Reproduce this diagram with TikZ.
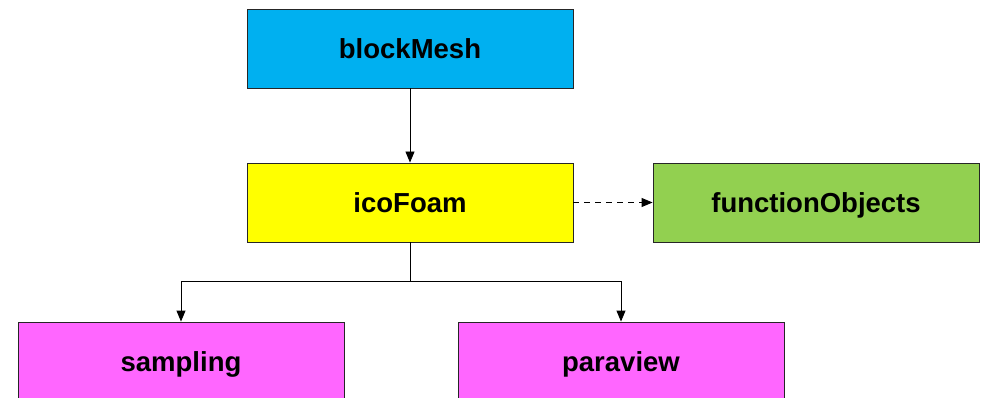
\documentclass[tikz,border=0pt]{standalone}
\usepackage{fontspec}
\setmainfont{Liberation Sans}
\usetikzlibrary{arrows.meta}
\definecolor{cbm}{HTML}{00B0F0}
\definecolor{cico}{HTML}{FFFF00}
\definecolor{cfo}{HTML}{92D050}
\definecolor{cmag}{HTML}{FF66FF}
\begin{document}
\begin{tikzpicture}[x=1pt,y=-1pt,
  box/.style={draw=black!85,line width=0.9pt,minimum width=326pt,minimum height=79pt,
    inner sep=0pt,text height=19.8pt,text depth=0pt,font=\fontsize{27.5}{33}\selectfont\bfseries},
  conn/.style={line width=0.9pt,-{Triangle[length=11pt,width=9pt]}},
  plain/.style={line width=0.9pt}]
\clip (0,0) rectangle (984,398);
\useasboundingbox (0,0) rectangle (984,398);
\fill[white] (0,0) rectangle (984,398);
\node[box,fill=cbm] (bm) at (410,48.5) {blockMesh};
\node[box,fill=cico] (ico) at (410,202.5) {icoFoam};
\node[box,fill=cfo] (fo) at (816,202.5) {functionObjects};
\node[box,fill=cmag] (samp) at (181,361.5) {sampling};
\node[box,fill=cmag] (para) at (621,361.5) {paraview};
\coordinate (j) at (410,281);
\draw[conn] (bm) -- (ico);
\draw[conn,dash pattern=on 6pt off 5pt] (ico) -- (fo);
\draw[plain] (ico) -- (j);
\draw[conn] (j) -| (samp.north);
\draw[conn] (j) -| (para.north);
\end{tikzpicture}
\end{document}
